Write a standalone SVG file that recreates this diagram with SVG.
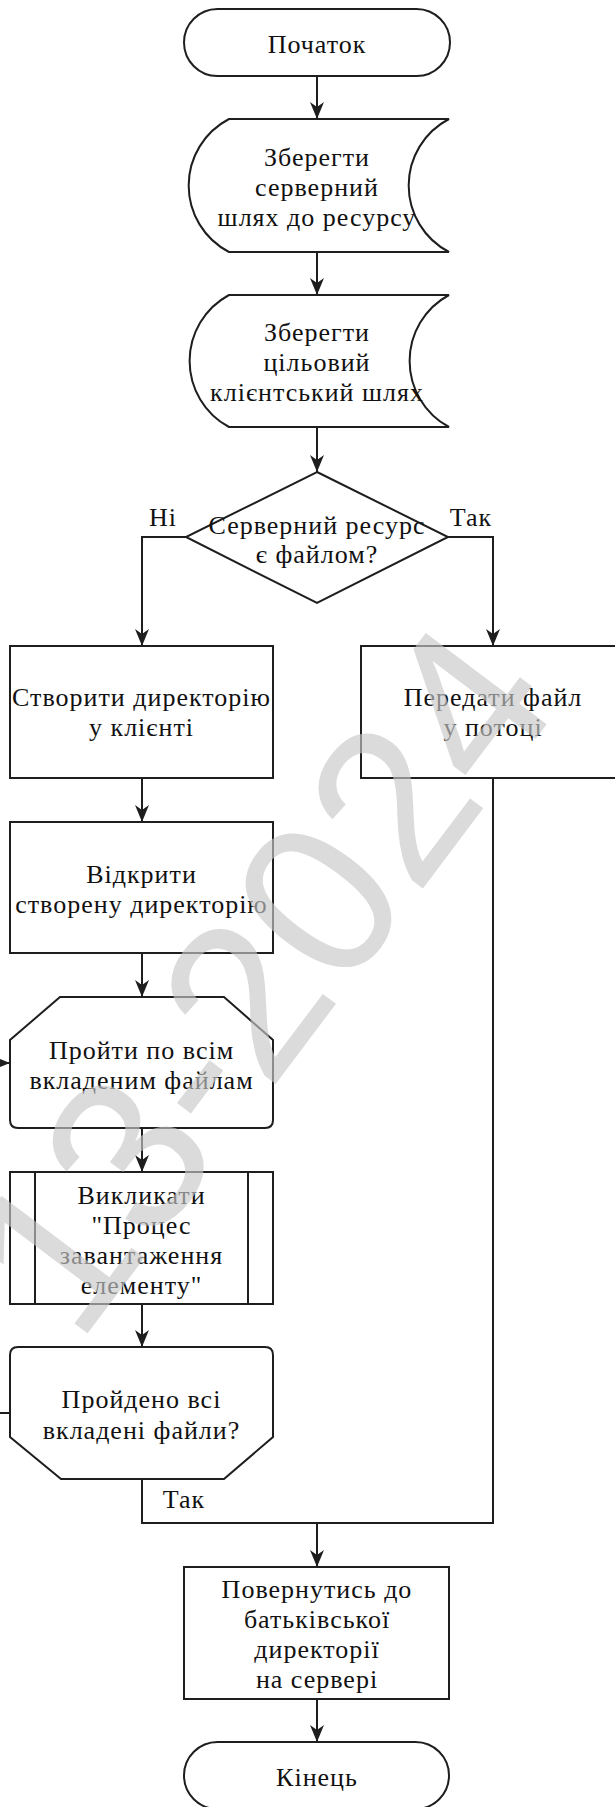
<svg xmlns="http://www.w3.org/2000/svg" width="615" height="1807" viewBox="0 0 615 1807">
  <style>
    .shape { fill: #ffffff; stroke: #1e1e1e; stroke-width: 2; }
    .line { fill: none; stroke: #1e1e1e; stroke-width: 2; }
    .arrow { fill: none; stroke: #1e1e1e; stroke-width: 2; marker-end: url(#head); }
    .lbl { font-size: 26px; fill: #111111; text-anchor: middle; letter-spacing: 1px; }
    .mark { font-size: 220px; fill: #c8c8c8; fill-opacity: 0.65; text-anchor: middle; }
  </style>
  <defs>
    <marker id="head" markerUnits="userSpaceOnUse" viewBox="-18 -8 19 16" markerWidth="19" markerHeight="16" refX="0" refY="0" orient="auto">
      <path d="M0,0 L-17,-7 L-12,0 L-17,7 Z" fill="#1e1e1e"/>
    </marker>
  </defs>
  <rect width="615" height="1807" fill="#ffffff"/>

  <g font-family="Liberation Serif, Times New Roman, serif">
  <g id="connectors">
    <path class="arrow" d="M317,76 V119"/>
    <path class="arrow" d="M317,252 V295"/>
    <path class="arrow" d="M317,427 V472"/>
    <path class="arrow" d="M186,537 H142 V646"/>
    <path class="arrow" d="M448,537 H493 V646"/>
    <path class="arrow" d="M142,778 V822"/>
    <path class="arrow" d="M142,953 V997"/>
    <path class="arrow" d="M142,1128 V1172"/>
    <path class="arrow" d="M142,1304 V1347"/>
    <path class="arrow" d="M10,1413 H-10 V1063 H10"/>
    <path class="line" d="M142,1479 V1523 H493 V778"/>
    <path class="arrow" d="M317,1523 V1567"/>
    <path class="arrow" d="M317,1699 V1742"/>
    <text class="lbl" x="163" y="526">Ні</text>
    <text class="lbl" x="471" y="526">Так</text>
    <text class="lbl" x="184" y="1508">Так</text>
  </g>

  <g id="start">
    <rect class="shape" x="184" y="9" width="266" height="67" rx="33.5"/>
    <text class="lbl" x="317" y="53">Початок</text>
  </g>

  <g id="store-server-path">
    <path class="shape" d="M229,119 H449 A75,75 0 0 0 449,252 H229 A75,75 0 0 1 229,119 Z"/>
    <text class="lbl" x="317" y="166">Зберегти</text>
    <text class="lbl" x="317" y="196">серверний</text>
    <text class="lbl" x="317" y="226">шлях до ресурсу</text>
  </g>

  <g id="store-client-path">
    <path class="shape" d="M229,295 H449 A75,75 0 0 0 449,427 H229 A75,75 0 0 1 229,295 Z"/>
    <text class="lbl" x="317" y="341">Зберегти</text>
    <text class="lbl" x="317" y="371">цільовий</text>
    <text class="lbl" x="317" y="401">клієнтський шлях</text>
  </g>

  <g id="is-file">
    <path class="shape" d="M317,472 L448,537 L317,603 L186,537 Z"/>
    <text class="lbl" x="317" y="534">Серверний ресурс</text>
    <text class="lbl" x="317" y="563">є файлом?</text>
  </g>

  <g id="create-dir">
    <rect class="shape" x="10" y="646" width="263" height="132"/>
    <text class="lbl" x="141.5" y="706">Створити директорію</text>
    <text class="lbl" x="141.5" y="736">у клієнті</text>
  </g>

  <g id="send-file">
    <rect class="shape" x="361" y="646" width="264" height="132"/>
    <text class="lbl" x="493" y="706">Передати файл</text>
    <text class="lbl" x="493" y="736">у потоці</text>
  </g>

  <g id="open-dir">
    <rect class="shape" x="10" y="822" width="263" height="131"/>
    <text class="lbl" x="141.5" y="883">Відкрити</text>
    <text class="lbl" x="141.5" y="913">створену директорію</text>
  </g>

  <g id="loop-start">
    <path class="shape" d="M60,997 H224 L273,1040 V1120 Q273,1128 265,1128 H18 Q10,1128 10,1120 V1040 Z"/>
    <text class="lbl" x="141.5" y="1059">Пройти по всім</text>
    <text class="lbl" x="141.5" y="1089">вкладеним файлам</text>
  </g>

  <g id="call-subprocess">
    <rect class="shape" x="10" y="1172" width="263" height="132"/>
    <path class="line" d="M35,1172 V1304 M248,1172 V1304"/>
    <text class="lbl" x="141.5" y="1204">Викликати</text>
    <text class="lbl" x="141.5" y="1234">"Процес</text>
    <text class="lbl" x="141.5" y="1264">завантаження</text>
    <text class="lbl" x="141.5" y="1294">елементу"</text>
  </g>

  <g id="loop-end">
    <path class="shape" d="M18,1347 H265 Q273,1347 273,1355 V1437 L224,1479 H61 L10,1437 V1355 Q10,1347 18,1347 Z"/>
    <text class="lbl" x="141.5" y="1408">Пройдено всі</text>
    <text class="lbl" x="141.5" y="1439">вкладені файли?</text>
  </g>

  <g id="return-parent">
    <rect class="shape" x="184" y="1567" width="265" height="132"/>
    <text class="lbl" x="317" y="1598">Повернутись до</text>
    <text class="lbl" x="317" y="1628">батьківської</text>
    <text class="lbl" x="317" y="1658">директорії</text>
    <text class="lbl" x="317" y="1688">на сервері</text>
  </g>

  <g id="end">
    <rect class="shape" x="184" y="1742" width="265" height="67" rx="33.5"/>
    <text class="lbl" x="317" y="1786">Кінець</text>
  </g>
  </g>

  <!-- faint diagonal watermark over the chart -->
  <text class="mark" font-family="Liberation Sans, Arial, sans-serif" x="259" y="1055" transform="rotate(-53 259 978)">13-2024</text>
</svg>
